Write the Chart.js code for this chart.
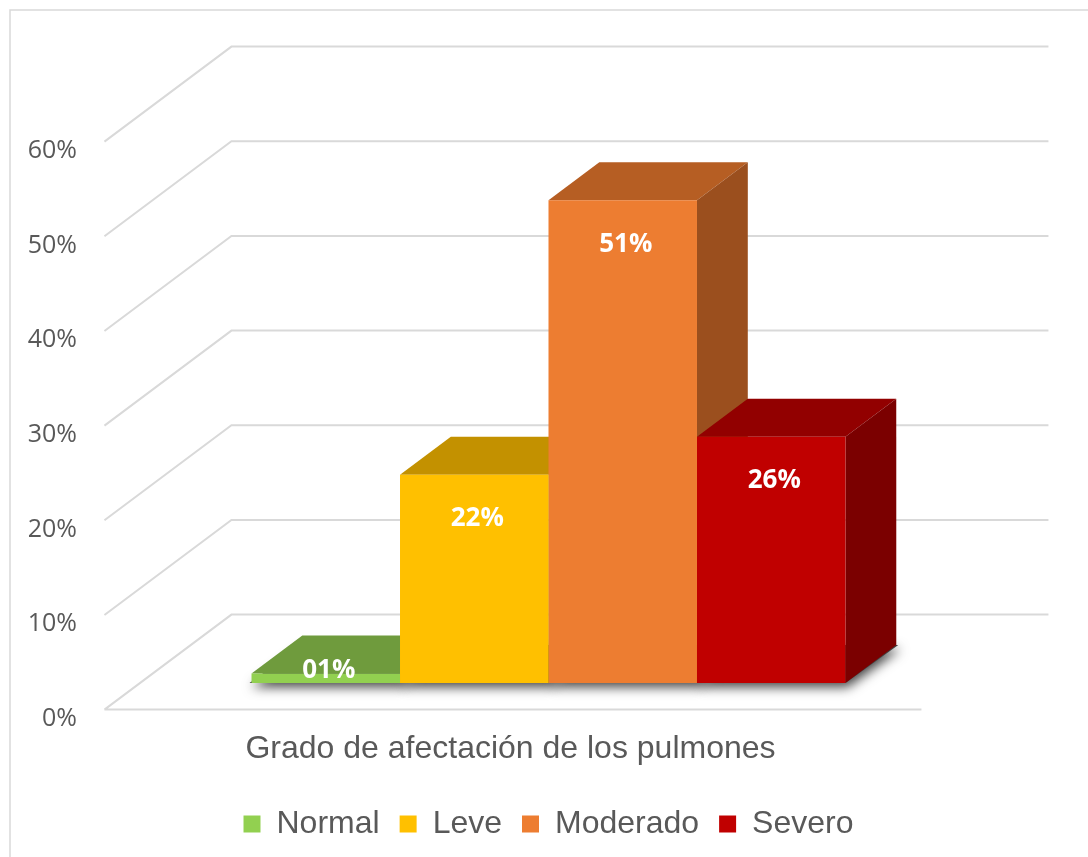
<!DOCTYPE html>
<html lang="es">
<head>
  <meta charset="UTF-8" />
  <title>Grado de afectación de los pulmones</title>
  <script src="https://cdn.jsdelivr.net/npm/chart.js"></script>
  <style>
    html, body { margin: 0; padding: 0; background: #ffffff; }
    canvas { display: block; }
  </style>
</head>
<body>
  <canvas id="grafico" width="1088" height="857"></canvas>

  <script>
    const categorias = ['Grado de afectación de los pulmones'];
    const grados = ['Normal', 'Leve', 'Moderado', 'Severo'];
    const porcentajes = [1, 22, 51, 26];
    const ticksY = [0, 10, 20, 30, 40, 50, 60];

    // colores de cada cara de la barra
    const colorFrente = ['#92d050', '#ffc000', '#ed7d31', '#c00000'];
    const colorArriba = ['#6f9b3d', '#c39100', '#b65e23', '#920000'];
    const colorLado   = ['#5b8230', '#9e7500', '#9b4f1e', '#7b0000'];

    const gris = '#595959';
    const lineaGrid = '#d9d9d9';

    // profundidad del piso (px) y tramo que ocupan las barras dentro de él
    const PISO = { dx: 127, dy: 95 };
    const BARRA_INI = 0.28;
    const BARRA_FIN = 0.68;

    function poligono(ctx, pts) {
      ctx.beginPath();
      ctx.moveTo(pts[0][0], pts[0][1]);
      for (let i = 1; i < pts.length; i++) ctx.lineTo(pts[i][0], pts[i][1]);
      ctx.closePath();
      ctx.fill();
    }

    function barras(chart) {
      return grados.map((_, i) => chart.getDatasetMeta(i).data[0].getProps(['x', 'y', 'base', 'width'], true));
    }

    const efecto3d = {
      id: 'efecto3d',
      beforeDraw(chart) {
        // marco del gráfico
        const ctx = chart.ctx;
        ctx.save();
        ctx.strokeStyle = lineaGrid;
        ctx.lineWidth = 1.5;
        ctx.beginPath();
        ctx.moveTo(10, chart.height);
        ctx.lineTo(10, 10);
        ctx.lineTo(chart.width, 10);
        ctx.stroke();
        ctx.restore();
      },
      beforeDatasetsDraw(chart) {
        const { ctx, chartArea: a, scales: { y } } = chart;
        const fx = PISO.dx * BARRA_INI, fy = PISO.dy * BARRA_INI;
        const bx = PISO.dx - fx, by = PISO.dy - fy;

        // pared del fondo, pared izquierda y piso
        ctx.save();
        ctx.strokeStyle = lineaGrid;
        ctx.lineWidth = 2;
        y.ticks.forEach(t => {
          const py = y.getPixelForValue(t.value);
          ctx.beginPath();
          ctx.moveTo(a.left - fx, py + fy);
          ctx.lineTo(a.left + bx, py - by);
          ctx.lineTo(a.right + bx, py - by);
          if (t.value === 0) {
            ctx.moveTo(a.left - fx, py + fy);
            ctx.lineTo(a.right - fx, py + fy);
          }
          ctx.stroke();
        });
        ctx.restore();

        const ddx = PISO.dx * (BARRA_FIN - BARRA_INI);
        const ddy = PISO.dy * (BARRA_FIN - BARRA_INI);
        const bs = barras(chart);

        // sombra de la base
        bs.forEach(b => {
          const l = b.x - b.width / 2, r = b.x + b.width / 2;
          ctx.save();
          ctx.shadowColor = 'rgba(0,0,0,0.75)';
          ctx.shadowBlur = 12;
          ctx.shadowOffsetX = 2;
          ctx.shadowOffsetY = 4;
          ctx.fillStyle = '#404040';
          poligono(ctx, [[l - 2, b.base], [r, b.base], [r + ddx + 2, b.base - ddy], [l + ddx, b.base - ddy]]);
          ctx.restore();
        });

        // caras superior y lateral, de izquierda a derecha
        bs.forEach((b, i) => {
          const l = b.x - b.width / 2, r = b.x + b.width / 2;
          ctx.save();
          ctx.fillStyle = colorArriba[i];
          poligono(ctx, [[l, b.y], [r, b.y], [r + ddx, b.y - ddy], [l + ddx, b.y - ddy]]);
          ctx.fillStyle = colorLado[i];
          poligono(ctx, [[r, b.y], [r + ddx, b.y - ddy], [r + ddx, b.base - ddy], [r, b.base]]);
          ctx.restore();
        });
      },
      afterDatasetsDraw(chart) {
        const ctx = chart.ctx;
        ctx.save();
        ctx.font = 'bold 26px "Open Sans"';
        ctx.fillStyle = '#ffffff';
        ctx.textAlign = 'center';
        ctx.textBaseline = 'middle';
        barras(chart).forEach((b, i) => {
          const ty = Math.min(b.y + 44, b.base - 12);
          ctx.fillText(String(porcentajes[i]).padStart(2, '0') + '%', b.x + 3, ty);
        });
        ctx.restore();
      }
    };

    new Chart(document.getElementById('grafico'), {
      type: 'bar',
      data: {
        labels: categorias,
        datasets: grados.map((g, i) => ({
          label: g,
          data: [porcentajes[i]],
          backgroundColor: colorFrente[i],
          borderWidth: 0,
          barPercentage: 1,
          categoryPercentage: 0.727,
        })),
      },
      options: {
        responsive: false,
        animation: false,
        layout: { padding: { top: 115, left: 0, right: 131, bottom: 7 } },
        plugins: {
          tooltip: { enabled: false },
          legend: {
            position: 'bottom',
            fullSize: false,
            labels: {
              color: gris,
              font: { family: '"Liberation Sans", Arial, sans-serif', size: 32 },
              boxWidth: 17,
              boxHeight: 17,
              padding: 20,
            },
          },
        },
        scales: {
          x: {
            grid: { display: false, drawTicks: false },
            border: { display: false },
            ticks: {
              color: gris,
              font: { family: '"Liberation Sans", Arial, sans-serif', size: 32 },
              padding: 47,
              labelOffset: -38,
              maxRotation: 0,
            },
            afterFit(s) { s.height = 105; },
          },
          y: {
            min: ticksY[0],
            max: ticksY[ticksY.length - 1],
            grid: { display: false, drawTicks: false },
            border: { display: false },
            afterBuildTicks(s) { s.ticks = ticksY.map(v => ({ value: v })); },
            ticks: {
              color: gris,
              font: { family: '"Open Sans", sans-serif', size: 25 },
              padding: 63,
              labelOffset: 36,
              callback: v => v + '%',
            },
            afterFit(s) { s.width = 140; },
          },
        },
      },
      plugins: [efecto3d],
    });
  </script>
</body>
</html>
